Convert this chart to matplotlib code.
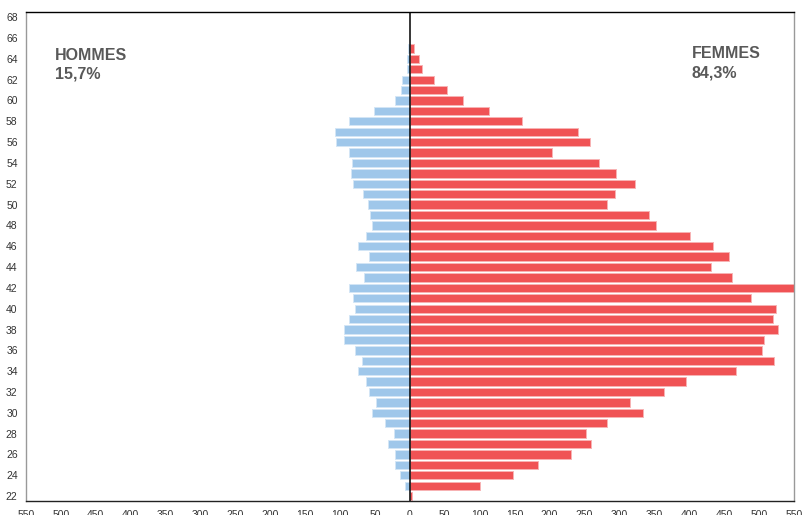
import numpy as np
import matplotlib
matplotlib.use("Agg")
import matplotlib.pyplot as plt

plt.rcParams['font.family'] = ['Liberation Sans', 'DejaVu Sans']

# Données : âge, effectifs hommes / femmes
ages = list(range(22, 66))
hommes = [0, 7, 14, 22, 22, 31, 23, 35, 54, 49, 59, 63, 74, 69, 78, 94, 95, 87,
          79, 82, 87, 65, 77, 58, 74, 63, 54, 57, 60, 67, 81, 85, 83, 87, 106,
          107, 87, 52, 22, 13, 11, 4, 4, 2]
femmes = [3, 100, 148, 184, 231, 260, 252, 282, 334, 315, 364, 396, 468, 522,
          504, 508, 527, 521, 525, 489, 551, 462, 431, 457, 435, 402, 353, 343,
          282, 294, 322, 295, 271, 204, 258, 241, 161, 113, 76, 53, 34, 17, 13, 6]

label_h = ["HOMMES", "15,7%"]
label_f = ["FEMMES", "84,3%"]

bleu = '#9fc7ea'
rouge = '#f05355'

fig = plt.figure(figsize=(8.05, 5.15), dpi=100)
ax = fig.add_axes([0.0323, 0.0266, 0.9537, 0.9501])

ax.barh(ages, [-v for v in hommes], height=0.8, color=bleu,
        edgecolor='#d4e6f6', linewidth=0.7, clip_on=False)
ax.barh(ages, femmes, height=0.8, color=rouge,
        edgecolor='#f7b3b4', linewidth=0.7, clip_on=False)

ax.axvline(0, color='black', linewidth=1.1)

ax.set_xlim(-550, 550)
ax.set_ylim(21.5, 68.5)
ax.set_xticks(np.arange(-550, 551, 50))
ax.set_xticklabels([str(abs(t)) for t in range(-550, 551, 50)])
ax.set_yticks(np.arange(22, 69, 2))
ax.tick_params(length=0, labelsize=7.5, labelcolor='#333333', pad=6)

for s in ['top']:
    ax.spines[s].set_color('black')
ax.spines['bottom'].set_color('#222222')
ax.spines['left'].set_color('#999999')
ax.spines['right'].set_color('#999999')
for s in ax.spines.values():
    s.set_linewidth(1.0)

fig.text(0.068, 0.893, label_h[0], fontsize=11.5, fontweight='bold',
         color='#595959', va='center', ha='left')
fig.text(0.068, 0.856, label_h[1], fontsize=11.5, fontweight='bold',
         color='#595959', va='center', ha='left')
fig.text(0.859, 0.896, label_f[0], fontsize=11.5, fontweight='bold',
         color='#595959', va='center', ha='left')
fig.text(0.859, 0.858, label_f[1], fontsize=11.5, fontweight='bold',
         color='#595959', va='center', ha='left')

fig.savefig('out.png', dpi=100)
